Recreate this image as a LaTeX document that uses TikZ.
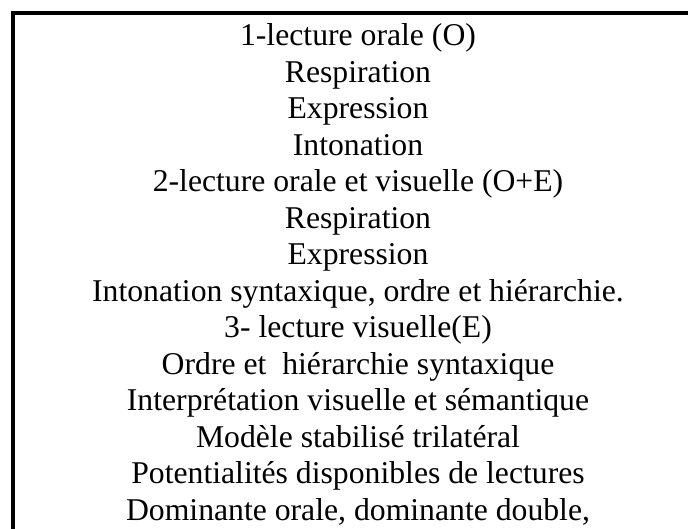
\documentclass[tikz,border=0pt]{standalone}
\usepackage{fontspec}
\setmainfont{Liberation Serif}
\begin{document}
\begin{tikzpicture}[x=1pt,y=-1pt,
  txt/.style={font=\fontsize{31.7}{36.5}\selectfont, anchor=base, inner sep=0pt},
  frame/.style={line width=4pt, draw=black}]
\useasboundingbox (0,0) rectangle (688,528);
\clip (0,0) rectangle (688,528);
\draw[frame] (13,13) rectangle (703,560);
\node[txt] (l1)  at (358,45.5)  {1-lecture orale (O)};
\node[txt] (l2)  at (358,82)    {Respiration};
\node[txt] (l3)  at (358,118.5) {Expression};
\node[txt] (l4)  at (358,155)   {Intonation};
\node[txt] (l5)  at (358,191.5) {2-lecture orale et visuelle (O+E)};
\node[txt] (l6)  at (358,228)   {Respiration};
\node[txt] (l7)  at (358,264.5) {Expression};
\node[txt] (l8)  at (358,301)   {Intonation syntaxique, ordre et hiérarchie.};
\node[txt] (l9)  at (358,337.5) {3- lecture visuelle(E)};
\node[txt] (l10) at (358,374)   {Ordre et\ \ hiérarchie syntaxique};
\node[txt] (l11) at (358,410.5) {Interprétation visuelle et sémantique};
\node[txt] (l12) at (358,447)   {Modèle stabilisé trilatéral};
\node[txt] (l13) at (358,483.5) {Potentialités disponibles de lectures};
\node[txt] (l14) at (358,520)   {Dominante orale, dominante double,};
\end{tikzpicture}
\end{document}
